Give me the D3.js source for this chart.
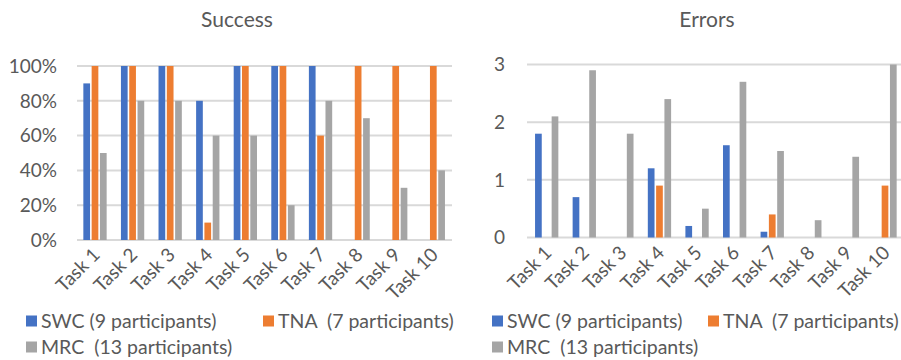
<!DOCTYPE html>
<html><head><meta charset="utf-8">
<script src="https://cdn.jsdelivr.net/npm/d3@7"></script>
<style>
body{margin:0;background:#fff;}
svg{display:block;font-family:Lato,"Open Sans",sans-serif;}
</style></head>
<body><svg id="c" width="901" height="360"></svg>
<script>
const tasks = ["Task 1","Task 2","Task 3","Task 4","Task 5","Task 6","Task 7","Task 8","Task 9","Task 10"];
const seriesNames = ["SWC (9 participants)","TNA  (7 participants)","MRC  (13 participants)"];
const colors = ["#4472C4","#ED7D31","#A5A5A5"];
const successSWC = [90,100,100,80,100,100,100,0,0,0];
const successTNA = [100,100,100,10,100,100,60,100,100,100];
const successMRC = [50,80,80,60,60,20,80,70,30,40];
const errorsSWC = [1.8,0.7,0,1.2,0.2,1.6,0.1,0,0,0];
const errorsTNA = [0,0,0,0.9,0,0,0.4,0,0,0.9];
const errorsMRC = [2.1,2.9,1.8,2.4,0.5,2.7,1.5,0.3,1.4,3.0];
const successTicks = [0,20,40,60,80,100];
const errorTicks = [0,1,2,3];

const svg = d3.select("#c");
const textColor = "#595959";

function chart(cfg){
  const g = svg.append("g");
  const x = d3.scaleBand().domain(tasks).range(cfg.xr).padding(0);
  const y = d3.scaleLinear().domain(cfg.yd).range(cfg.yr);
  g.selectAll("line.grid").data(cfg.ticks).join("line")
    .attr("x1", cfg.gx[0]).attr("x2", cfg.gx[1])
    .attr("y1", d=>y(d)).attr("y2", d=>y(d))
    .attr("stroke","#D9D9D9").attr("stroke-width",2);
  g.selectAll("text.yl").data(cfg.ticks).join("text")
    .attr("x", cfg.ylx).attr("y", d=>y(d)).attr("dy","0.36em")
    .attr("text-anchor","end").attr("fill",textColor)
    .style("font-size","19px").text(cfg.fmt);
  const bw = 6.7, step = 8.3;
  cfg.series.forEach((vals,si)=>{
    g.selectAll("rect.s"+si).data(vals).join("rect")
      .attr("x",(d,i)=>x(tasks[i]) + x.bandwidth()/2 + (si-1)*step - bw/2)
      .attr("width",bw)
      .attr("y",d=>y(d)).attr("height",d=>y(0)-y(d))
      .attr("fill",colors[si]);
  });
  g.selectAll("text.xl").data(tasks).join("text")
    .attr("transform",d=>`translate(${x(d)+x.bandwidth()/2+6},${cfg.xly}) rotate(-45)`)
    .attr("text-anchor","end").attr("fill",textColor)
    .style("font-size","19px").text(d=>d);
  g.append("text").attr("x",cfg.tx).attr("y",27).attr("text-anchor","middle")
    .attr("fill",textColor).style("font-size","21px").text(cfg.title);
  const leg = [
    {i:0,x:cfg.lx[0],y:321},
    {i:1,x:cfg.lx[1],y:321},
    {i:2,x:cfg.lx[0],y:347}
  ];
  leg.forEach(l=>{
    g.append("rect").attr("x",l.x).attr("y",l.y-5.5).attr("width",11).attr("height",11).attr("fill",colors[l.i]);
    g.append("text").attr("x",l.x+15).attr("y",l.y).attr("dy","0.35em")
      .attr("fill",textColor).style("font-size","19.5px").style("white-space","pre")
      .attr("xml:space","preserve").text(seriesNames[l.i]);
  });
}

chart({
  title:"Success", tx:237,
  xr:[76.2,452.1], gx:[77,452], yd:[0,100], yr:[240,66],
  ticks:successTicks, fmt:d=>d+"%", ylx:57, xly:256,
  series:[successSWC,successTNA,successMRC], lx:[26,263]
});
chart({
  title:"Errors", tx:707,
  xr:[527.9,903.8], gx:[527,901], yd:[0,3], yr:[237.5,64.5],
  ticks:errorTicks, fmt:d=>d, ylx:505, xly:254,
  series:[errorsSWC,errorsTNA,errorsMRC], lx:[492,708]
});
</script></body></html>
